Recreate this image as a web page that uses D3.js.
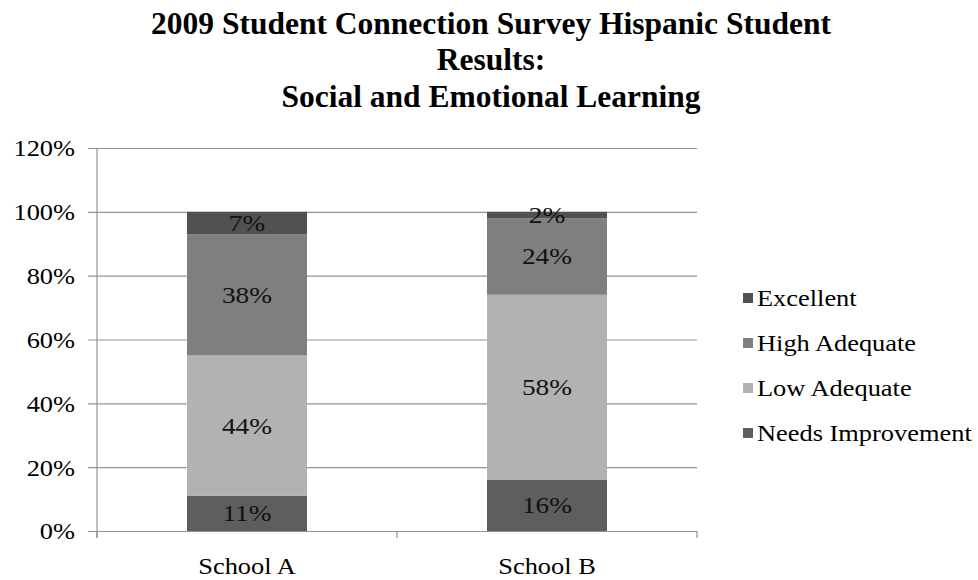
<!DOCTYPE html>
<html>
<head>
<meta charset="utf-8">
<script src="https://cdn.jsdelivr.net/npm/d3@7/dist/d3.min.js"></script>
<style>
  html, body { margin: 0; padding: 0; background: #fff; }
  svg { display: block; }
  text { font-family: "Liberation Serif", "Times New Roman", serif; fill: #000; }
</style>
</head>
<body>
<svg id="chart" width="978" height="580"></svg>
<script>
// ---- data ----
const schools = ["School A", "School B"];
const levels = ["Excellent", "High Adequate", "Low Adequate", "Needs Improvement"];
const excellent        = [0.07, 0.02];
const highAdequate     = [0.38, 0.24];
const lowAdequate      = [0.44, 0.58];
const needsImprovement = [0.11, 0.16];
const yTicks = [0, 0.2, 0.4, 0.6, 0.8, 1.0, 1.2];
const titleLines = [
  "2009 Student Connection Survey Hispanic Student",
  "Results:",
  "Social and Emotional Learning"
];

const levelColor = {
  "Excellent": "#515151",
  "High Adequate": "#7f7f7f",
  "Low Adequate": "#b2b2b2",
  "Needs Improvement": "#5e5e5e"
};

// rows for the stack: one per school
const rows = schools.map((s, i) => ({
  school: s,
  "Needs Improvement": needsImprovement[i],
  "Low Adequate": lowAdequate[i],
  "High Adequate": highAdequate[i],
  "Excellent": excellent[i]
}));
const stackOrder = ["Needs Improvement", "Low Adequate", "High Adequate", "Excellent"];
const series = d3.stack().keys(stackOrder)(rows);

// ---- layout ----
const svg = d3.select("#chart");
const plot = { left: 97, right: 697, top: 148, bottom: 531 };
const stretch = 1.1; // body text is set slightly wide

const x = d3.scaleBand().domain(schools)
  .range([plot.left, plot.right])
  .paddingInner(0.6).paddingOuter(0.3);
const y = d3.scaleLinear().domain([0, 1.2]).range([plot.bottom, plot.top]);

function widen(sel, k = stretch) {
  sel.attr("transform", function () {
    const tx = +d3.select(this).attr("x") || 0;
    return `translate(${tx},0) scale(${k},1) translate(${-tx},0)`;
  });
}

// ---- title ----
svg.append("g").selectAll("text").data(titleLines).join("text")
  .attr("x", 491)
  .attr("y", (d, i) => [34, 70, 107][i])
  .attr("text-anchor", "middle")
  .style("font-size", "31.5px")
  .style("font-weight", "bold")
  .text(d => d);

// ---- y axis with gridlines ----
const gridLen = plot.right - plot.left + 9;
const yAxis = svg.append("g")
  .attr("transform", `translate(${plot.right},0)`)
  .call(d3.axisLeft(y).tickValues(yTicks).tickSize(gridLen).tickPadding(13)
    .tickFormat(d3.format(".0%")));
yAxis.select(".domain").remove();
yAxis.selectAll(".tick line").attr("stroke", "#939393").attr("stroke-width", 1.2);
yAxis.selectAll(".tick text")
  .style("font-size", "24px")
  .style("font-family", "'Liberation Serif', 'Times New Roman', serif")
  .attr("fill", "#000")
  .attr("dy", "0.33em")
  .call(widen);

// vertical axis line
svg.append("line")
  .attr("x1", plot.left).attr("x2", plot.left)
  .attr("y1", y(1.2)).attr("y2", y(0) + 7)
  .attr("stroke", "#939393").attr("stroke-width", 1.2);

// category boundary ticks below the baseline
const boundaries = [plot.left, (x(schools[0]) + x.bandwidth() + x(schools[1])) / 2, plot.right];
svg.append("g").selectAll("line").data(boundaries).join("line")
  .attr("x1", d => d).attr("x2", d => d)
  .attr("y1", y(0)).attr("y2", y(0) + 7)
  .attr("stroke", "#939393").attr("stroke-width", 1.2);

// ---- bars ----
const layers = svg.append("g").selectAll("g").data(series).join("g")
  .attr("fill", d => levelColor[d.key]);
layers.selectAll("rect").data(d => d).join("rect")
  .attr("x", d => x(d.data.school))
  .attr("width", x.bandwidth())
  .attr("y", d => y(d[1]))
  .attr("height", d => y(d[0]) - y(d[1]));

// value labels
const labels = svg.append("g");
series.forEach(s => {
  s.forEach(d => {
    const v = d[1] - d[0];
    labels.append("text")
      .attr("x", x(d.data.school) + x.bandwidth() / 2)
      .attr("y", y((d[0] + d[1]) / 2))
      .attr("dy", "0.33em")
      .attr("text-anchor", "middle")
      .style("font-size", "24px")
      .style("fill", "#111")
      .text(d3.format(".0%")(v))
      .call(widen, 1.14);
  });
});

// ---- category labels ----
svg.append("g").selectAll("text").data(schools).join("text")
  .attr("x", d => x(d) + x.bandwidth() / 2)
  .attr("y", 574)
  .attr("text-anchor", "middle")
  .style("font-size", "24px")
  .text(d => d)
  .call(widen);

// ---- legend ----
const legend = svg.append("g").selectAll("g").data(levels).join("g");
legend.append("rect")
  .attr("x", 743)
  .attr("y", (d, i) => 293 + i * 45)
  .attr("width", 10).attr("height", 10)
  .attr("fill", d => levelColor[d]);
legend.append("text")
  .attr("x", 757)
  .attr("y", (d, i) => 298 + i * 45)
  .attr("dy", "0.33em")
  .style("font-size", "24px")
  .text(d => d)
  .call(widen);
</script>
</body>
</html>
